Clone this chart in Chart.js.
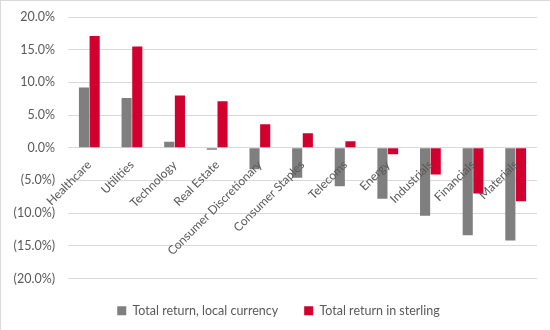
<!DOCTYPE html>
<html>
<head>
<meta charset="utf-8">
<script src="https://cdn.jsdelivr.net/npm/chart.js@4.4.1/dist/chart.umd.min.js"></script>
<style>
    html, body {
        margin: 0;
        padding: 0;
        background: #ffffff;
    }
    #wrap {
        width: 549px;
        height: 329px;
        border-top: 1px solid #d9d9d9;
        border-left: 1px solid #d9d9d9;
        position: relative;
    }
</style>
</head>
<body>
<div id="wrap">
    <canvas id="sectorChart" width="549" height="329"></canvas>
</div>
<script>

const sectors = [
    "Healthcare", "Utilities", "Technology", "Real Estate",
    "Consumer Discretionary", "Consumer Staples", "Telecoms",
    "Energy", "Industrials", "Financials", "Materials"
];

const localReturn = [9.2, 7.6, 0.9, -0.3, -3.3, -4.6, -5.9, -7.8, -10.4, -13.4, -14.2];

const sterlingReturn = [17.1, 15.5, 8.0, 7.1, 3.6, 2.2, 1.0, -1.0, -4.1, -7.0, -8.2];

const seriesNames = ["Total return, local currency", "Total return in sterling"];

const yTicks = [-20, -15, -10, -5, 0, 5, 10, 15, 20];

const textColor = "#595959";
const gridColor = "#d9d9d9";

function pctLabel(v) {
    const s = Math.abs(v).toFixed(1) + "%";
    return v < 0 ? "(" + s + ")" : s;
}

// nudge the legend a little right so it sits centred like the excel one
const legendShift = {
    id: "legendShift",
    afterLayout(chart) {
        chart.legend.left += 7;
        chart.legend.right += 7;
    }
};

const ctx = document.getElementById("sectorChart").getContext("2d");

new Chart(ctx, {

    type: "bar",

    data: {
        labels: sectors,
        datasets: [
            {
                label: seriesNames[0],
                data: localReturn,
                backgroundColor: "#7f7f7f",
                categoryPercentage: 0.5,
                barPercentage: 0.95
            },
            {
                label: seriesNames[1],
                data: sterlingReturn,
                backgroundColor: "#d2002e",
                categoryPercentage: 0.5,
                barPercentage: 0.95
            }
        ]
    },

    plugins: [legendShift],

    options: {
        responsive: false,
        animation: false,
        layout: {
            padding: { top: 0, right: 13, left: 5, bottom: 3 }
        },
        plugins: {
            tooltip: { enabled: false },
            legend: {
                position: "bottom",
                labels: {
                    color: textColor,
                    font: { family: "Lato", size: 12.5 },
                    boxWidth: 9,
                    boxHeight: 9,
                    padding: 26
                }
            }
        },
        scales: {
            x: {
                position: { y: 0 },
                grid: { display: false },
                border: { display: false },
                ticks: {
                    z: 1,
                    color: textColor,
                    font: { family: "Lato", size: 12 },
                    autoSkip: false,
                    minRotation: 45,
                    maxRotation: 45,
                    padding: 2
                }
            },
            y: {
                min: yTicks[0],
                max: yTicks[yTicks.length - 1],
                afterBuildTicks: axis => {
                    axis.ticks = yTicks.map(v => ({ value: v }));
                },
                afterFit: axis => {
                    axis.width = 62;
                    axis.paddingTop = 16;
                    axis.paddingBottom = 8;
                },
                grid: {
                    color: gridColor,
                    lineWidth: 1,
                    drawTicks: false
                },
                border: { display: false },
                ticks: {
                    color: textColor,
                    font: { family: "Lato", size: 12.5 },
                    padding: 13,
                    callback: v => pctLabel(v)
                }
            }
        }
    }
});

</script>
</body>
</html>
